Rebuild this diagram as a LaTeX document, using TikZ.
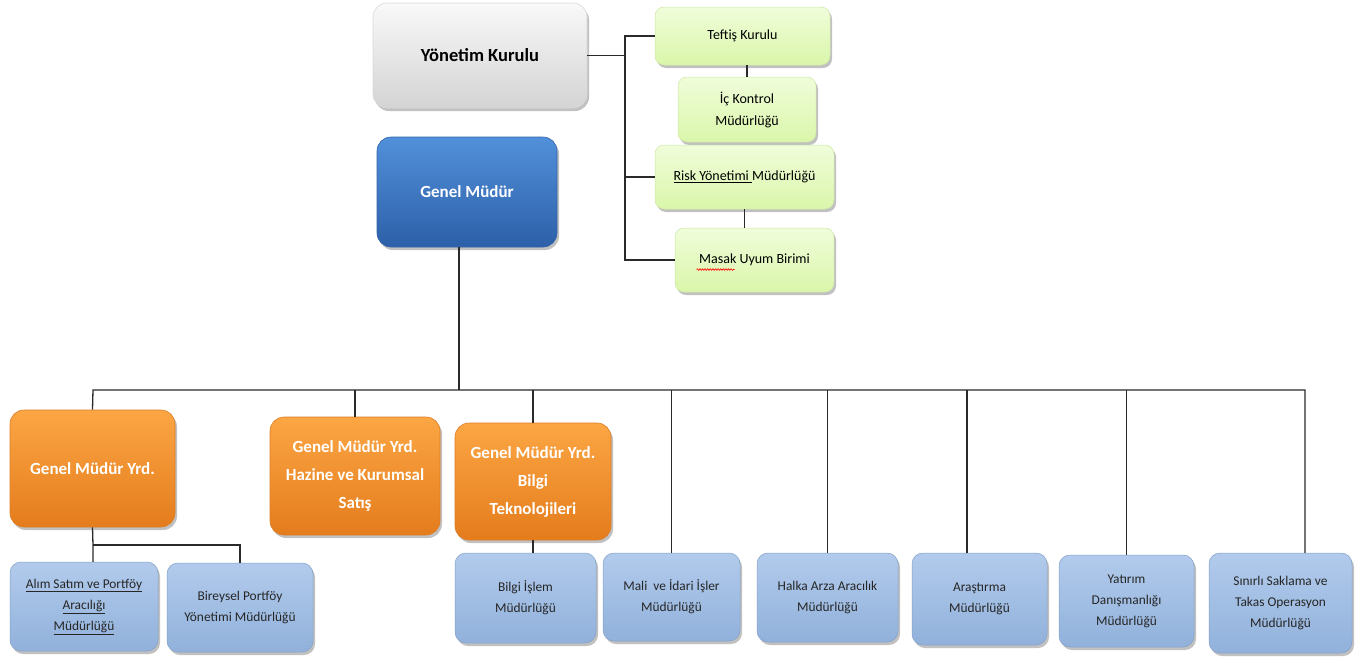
\documentclass[tikz,border=0pt]{standalone}
\usepackage{fontspec}
\setmainfont{Carlito}
\usetikzlibrary{shadows,decorations.pathmorphing}
\definecolor{lnc}{HTML}{2A2A2A}
\tikzset{
  basebox/.style={rounded corners=14pt, align=center, inner sep=0pt,
    drop shadow={shadow xshift=2pt, shadow yshift=-3pt, opacity=0.35, fill=black!70}},
  graybox/.style={basebox, top color=white!95!gray, bottom color=black!17, draw=black!15, line width=0.6pt,
    font=\fontsize{18.5}{20}\selectfont\bfseries, text=black},
  bluebox/.style={basebox, top color={rgb,255:red,82;green,144;blue,218}, bottom color={rgb,255:red,44;green,96;blue,168},
    draw={rgb,255:red,50;green,100;blue,170}, line width=0.6pt,
    font=\fontsize{17}{20}\selectfont\bfseries, text=white},
  orangebox/.style={basebox, top color={rgb,255:red,252;green,166;blue,68}, bottom color={rgb,255:red,228;green,124;blue,28},
    draw={rgb,255:red,220;green,125;blue,40}, line width=0.6pt,
    font=\fontsize{17}{28}\selectfont\bfseries, text=white},
  greenbox/.style={basebox, rounded corners=9pt, top color={rgb,255:red,240;green,253;blue,218}, bottom color={rgb,255:red,218;green,246;blue,170},
    draw={rgb,255:red,205;green,230;blue,165}, line width=0.5pt,
    font=\fontsize{14}{22}\selectfont, text=black},
  lbox/.style={basebox, rounded corners=11pt, top color={rgb,255:red,178;green,203;blue,236}, bottom color={rgb,255:red,145;green,177;blue,219},
    draw={rgb,255:red,130;green,160;blue,200}, line width=0.5pt,
    font=\fontsize{13.4}{21}\selectfont, text=black!85},
  conn/.style={draw=lnc, line width=1.3pt},
  spellwave/.style={draw=red, line width=0.6pt, decorate, decoration={snake, amplitude=0.8pt, segment length=2.6pt}}
}
\begin{document}
\begin{tikzpicture}[x=1pt, y=-1pt]
\useasboundingbox (0,0) rectangle (1370,659);
% top level
\node[graybox, minimum width=214pt, minimum height=105pt] (yk) at (480,55.5) {Yönetim Kurulu};
\node[bluebox, minimum width=180pt, minimum height=110pt] (gm) at (467,192) {Genel Müdür};
% green
\node[greenbox, minimum width=175pt, minimum height=58pt] (tk) at (742.5,36) {Teftiş Kurulu};
\node[greenbox, minimum width=138pt, minimum height=65pt] (ik) at (747,109.5) {İç Kontrol\\Müdürlüğü};
\node[greenbox, minimum width=179pt, minimum height=64pt] (rk) at (744.5,177) {\underline{Risk Yönetimi\ }Müdürlüğü};
\node[greenbox, minimum width=159pt, minimum height=64pt] (mk) at (754.5,260) {Masak Uyum Birimi};
% orange
\node[orangebox, minimum width=165pt, minimum height=117pt] (g1) at (92.5,468.5) {Genel Müdür Yrd.};
\node[orangebox, minimum width=170pt, minimum height=118pt] (g2) at (355,476) {Genel Müdür Yrd.\\Hazine ve Kurumsal\\Satış};
\node[orangebox, minimum width=156pt, minimum height=117pt] (g3) at (533,481.5) {Genel Müdür Yrd.\\Bilgi\\Teknolojileri};
% light blue
\node[lbox, minimum width=148pt, minimum height=89pt] (al) at (84,606.5) {\underline{Alım Satım ve Portföy}\\\underline{Aracılığı}\\\underline{Müdürlüğü}};
\node[lbox, minimum width=146pt, minimum height=89pt] (bi) at (240,607.5) {Bireysel Portföy\\Yönetimi Müdürlüğü};
\node[lbox, minimum width=141pt, minimum height=90pt] (bs) at (525.5,598) {Bilgi İşlem\\Müdürlüğü};
\node[lbox, minimum width=137pt, minimum height=88pt] (mi) at (671.5,597) {Mali\ \ ve İdari İşler\\Müdürlüğü};
\node[lbox, minimum width=141pt, minimum height=89pt] (ha) at (827.5,597.5) {Halka Arza Aracılık\\Müdürlüğü};
\node[lbox, minimum width=135pt, minimum height=92pt] (ar) at (979.5,599) {Araştırma\\Müdürlüğü};
\node[lbox, minimum width=135pt, minimum height=92pt] (ya) at (1126.5,601) {Yatırım\\Danışmanlığı\\Müdürlüğü};
\node[lbox, minimum width=143pt, minimum height=100pt] (sk) at (1280.5,603) {Sınırlı Saklama ve\\Takas Operasyon\\Müdürlüğü};
% spell-check wave under "Masak"
\draw[spellwave] ([xshift=-58pt,yshift=-9.5pt]mk.center) -- ++(38pt,0);
% connectors: board side
\coordinate (vb) at (625,260);
\draw[conn] (tk.west) -| (vb) -- (mk.west);
\draw[conn] (yk.east) -- (yk.east -| vb);
\draw[conn] (rk.west) -- (rk.west -| vb);
\draw[conn] (tk.south -| ik.north) -- (ik.north);
\draw[conn] (rk.south) -- (rk.south |- mk.north);
% main bus
\coordinate (gmd) at (459,390);
\coordinate (bl) at (93,390);
\coordinate (br) at (1305,390);
\draw[conn] (gmd |- gm.south) -- (gmd);
\draw[conn] (g1.north) -- (bl) -- (br) -- (br |- sk.north);
\draw[conn] (g2.north) -- (g2.north |- bl);
\draw[conn] (g3.north) -- (g3.north |- bl);
\draw[conn] (mi.north) -- (mi.north |- bl);
\draw[conn] (ha.north) -- (ha.north |- bl);
\coordinate (arx) at (967,390);
\draw[conn] (arx) -- (arx |- ar.north);
\draw[conn] (ya.north) -- (ya.north |- bl);
% sub connectors
\coordinate (j1) at (93,545);
\draw[conn] (g1.south) -- (j1) -- (j1 |- al.north);
\draw[conn] (j1) -| (bi.north);
\draw[conn] (g3.south) -- (g3.south |- bs.north);
\end{tikzpicture}
\end{document}
